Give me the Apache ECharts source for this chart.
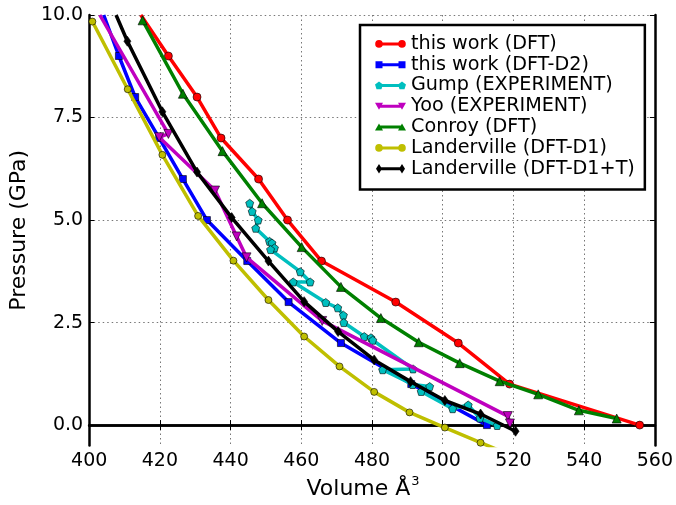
<!DOCTYPE html>
<html><head><meta charset="utf-8">
<script src="https://cdn.jsdelivr.net/npm/echarts@6/dist/echarts.min.js"></script>
<style>html,body{margin:0;padding:0;background:#fff}#c{width:676px;height:505px}</style>
</head><body><div id="c"></div>
<script>
// ---- data ----
const seriesNames = ['this work (DFT)','this work (DFT-D2)','Gump (EXPERIMENT)','Yoo (EXPERIMENT)','Conroy (DFT)','Landerville (DFT-D1)','Landerville (DFT-D1+T)'];
const redV = [414.6, 422.4, 430.5, 437.3, 447.9, 456.1, 465.7, 486.7, 504.4, 518.9, 555.7];
const redP = [10, 9, 8, 7, 6, 5, 4, 3, 2, 1, 0];
const blueV = [404.1, 408.4, 413.0, 419.8, 426.5, 433.3, 444.7, 456.4, 471.2, 491.1, 512.5];
const blueP = [10, 9, 8, 7, 6, 5, 4, 3, 2, 1, 0];
const gumpV = [445.4, 446.1, 447.8, 447.1, 451.0, 451.7, 452.4, 451.3, 459.7, 462.5, 457.7, 466.9, 470.3, 471.9, 472.0, 477.8, 479.7, 480.2, 491.6, 483.0, 491.5, 496.3, 493.9, 502.8, 507.2, 510.5, 515.4];
const gumpP = [5.41, 5.21, 5.00, 4.80, 4.48, 4.44, 4.32, 4.28, 3.74, 3.49, 3.49, 2.99, 2.86, 2.68, 2.50, 2.16, 2.13, 2.07, 1.37, 1.35, 0.99, 0.94, 0.82, 0.40, 0.49, 0.17, -0.01];
const yooV = [403.0, 422.4, 419.8, 435.6, 441.7, 444.5, 465.9, 518.4, 519.0];
const yooP = [10, 7.10, 7.02, 5.72, 4.60, 4.09, 2.54, 0.22, 0.04];
const conroyV = [415.1, 426.5, 437.7, 448.9, 460.1, 471.2, 482.5, 493.2, 504.8, 516.1, 527.0, 538.5, 549.2];
const conroyP = [9.87, 8.08, 6.68, 5.41, 4.34, 3.37, 2.61, 2.02, 1.51, 1.07, 0.75, 0.36, 0.16];
const d1V = [400.9, 410.9, 420.7, 430.8, 440.8, 450.7, 460.8, 470.8, 480.6, 490.6, 500.6, 510.7, 520.6];
const d1P = [9.84, 8.19, 6.59, 5.10, 4.01, 3.05, 2.16, 1.43, 0.81, 0.31, -0.06, -0.43, -0.78];
const d1tV = [407.6, 410.8, 420.7, 430.5, 440.3, 450.7, 460.8, 470.4, 480.6, 490.9, 500.6, 510.7, 520.6];
const d1tP = [10, 9.36, 7.64, 6.17, 5.06, 4.00, 3.01, 2.28, 1.59, 1.06, 0.60, 0.27, -0.15];
const xTicks = [400, 420, 440, 460, 480, 500, 520, 540, 560];
const yTicks = [0, 2.5, 5, 7.5, 10];

// ---- styling ----
const FONT = 'DejaVu Sans';
const colors = ['#ff0000','#0000ff','#00bfbf','#bf00bf','#008000','#bfbf00','#000000'];
const pentagon = 'path://M0,-1 L0.951,-0.309 L0.588,0.809 L-0.588,0.809 L-0.951,-0.309 Z';
const triDown = 'path://M-1,-0.9 L1,-0.9 L0,0.9 Z';
const thinDiamond = 'path://M0,-1 L0.6,0 L0,1 L-0.6,0 Z';
const symbols = ['circle','rect',pentagon,triDown,'triangle','circle',thinDiamond];
const symSizes = [8,7,8,9,9,7,[7,10]];

// all marker sub-paths are drawn clockwise (same winding as the line bar) so overlaps stay filled
function markerPath(kind, cx){
  switch(kind){
    case 'circle': return `M${cx-3.8},5 A3.8,3.8 0 0,1 ${cx+3.8},5 A3.8,3.8 0 0,1 ${cx-3.8},5 Z`;
    case 'rect': return `M${cx-3.5},1.5 L${cx+3.5},1.5 L${cx+3.5},8.5 L${cx-3.5},8.5 Z`;
    case 'pent': {
      const r=4.2, pts=[];
      for(let k=0;k<5;k++){const a=-Math.PI/2+k*2*Math.PI/5;pts.push((cx+r*Math.cos(a)).toFixed(2)+','+(5.3+r*Math.sin(a)).toFixed(2));}
      return 'M'+pts.join(' L')+' Z';
    }
    case 'down': return `M${cx-4},1.5 L${cx+4},1.5 L${cx},8.5 Z`;
    case 'up': return `M${cx},1.5 L${cx+4},8.5 L${cx-4},8.5 Z`;
    case 'diam': return `M${cx},0.3 L${cx+3},5 L${cx},9.7 L${cx-3},5 Z`;
  }
}
function legendIcon(kind){
  return 'path://M0,0 L0.01,0 L0.01,0.01 Z M31,10 L30.99,10 L30.99,9.99 Z M3,3.5 L28,3.5 L28,6.5 L3,6.5 Z ' + markerPath(kind,4) + ' ' + markerPath(kind,27);
}
const iconKinds = ['circle','rect','pent','down','up','circle','diam'];

const vols = [redV, blueV, gumpV, yooV, conroyV, d1V, d1tV];
const press = [redP, blueP, gumpP, yooP, conroyP, d1P, d1tP];
const hideFirst = [true, true, false, true, false, false, true];

const series = seriesNames.map((name,i)=>({
  name, type:'line', xAxisIndex:0, yAxisIndex:0,
  data: vols[i].map((v,j)=> (j===0 && hideFirst[i]) ? {value:[v,press[i][j]], symbol:'none'} : [v,press[i][j]]),
  symbol: symbols[i], symbolSize: symSizes[i], showAllSymbol: true,
  color: colors[i],
  lineStyle: {width: 3.5, color: colors[i]},
  itemStyle: {color: colors[i], borderColor: '#000', borderWidth: 0.6},
  emphasis: {disabled: true},
  clip: true, animation: false, z: 2 + i*0.01
}));

const chart = echarts.init(document.getElementById('c'), null, {renderer:'canvas'});
const axisLineStyle = {show:true, lineStyle:{color:'#000', width:2.5}};
const split = {show:true, lineStyle:{color:'#777', type:[1.5,3], width:1}};
chart.setOption({
  backgroundColor: '#fff',
  animation: false,
  textStyle: {fontFamily: FONT},
  grid: {left: 86, right: 19, top: 15, bottom: 56, containLabel: false},
  legend: {
    orient: 'vertical', left: 360, top: 25,
    data: seriesNames.map((n,i)=>({name:n, icon: legendIcon(iconKinds[i])})),
    itemWidth: 31, itemHeight: 10, itemGap: 1, symbolKeepAspect: true,
    padding: [9, 10, 11, 15],
    borderColor: '#000', borderWidth: 2.5, backgroundColor: '#fff',
    itemStyle: {borderWidth: 0},
    textStyle: {fontFamily: FONT, fontSize: 19.2, color: '#000', lineHeight: 19.8},
    selectedMode: false
  },
  xAxis: [{
    type:'value', min: 400, max: 560, interval: 20, position:'bottom',
    name: 'Volume Å{sup|3}', nameLocation:'middle', nameGap: 27,
    nameTextStyle: {fontFamily: FONT, fontSize: 22, color:'#000', padding:[0,18,0,0], rich:{sup:{fontFamily: FONT, fontSize: 13, color:'#000', padding:[0,0,14,1]}}},
    axisLine: axisLineStyle,
    axisTick: {show:true, inside:true, length:5, lineStyle:{color:'#000', width:1}},
    axisLabel: {fontFamily: FONT, fontSize: 19, color:'#000', margin: 6},
    splitLine: split
  },{
    type:'value', min: 400, max: 560, interval: 20, position:'top',
    axisLine: axisLineStyle,
    axisTick: {show:true, inside:true, length:5, lineStyle:{color:'#000', width:1}},
    axisLabel: {show:false}, splitLine: {show:false}
  }],
  yAxis: [{
    type:'value', min: -0.5, max: 10, position:'left',
    name: 'Pressure (GPa)', nameLocation:'middle', nameGap: 53,
    nameTextStyle: {fontFamily: FONT, fontSize: 22, color:'#000'},
    axisLine: axisLineStyle,
    axisTick: {show:true, inside:true, length:5, customValues: yTicks, lineStyle:{color:'#000', width:1}},
    axisLabel: {fontFamily: FONT, fontSize: 19, color:'#000', margin: 6, customValues: yTicks, formatter: v => v.toFixed(1)},
    splitLine: split
  },{
    type:'value', min: -0.5, max: 10, position:'right',
    axisLine: axisLineStyle,
    axisTick: {show:true, inside:true, length:5, customValues: yTicks, lineStyle:{color:'#000', width:1}},
    axisLabel: {show:false}, splitLine: {show:false}
  }],
  series
});
</script>
</body></html>
